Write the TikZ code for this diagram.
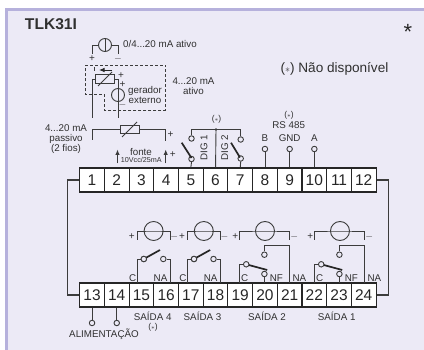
\documentclass[tikz,border=0pt]{standalone}
\usepackage{fontspec}
\usetikzlibrary{arrows.meta}
\setmainfont{Liberation Sans}
\definecolor{panel}{HTML}{ECEAF6}
\definecolor{edge}{HTML}{B6B1DC}
\definecolor{wire}{HTML}{3C3C3C}
\definecolor{ink}{HTML}{303030}
\newcommand{\nd}{($\scriptstyle\ast$)}
\tikzset{
	wireline/.style={draw=wire,line width=0.9pt},
	cell/.style={draw=black!85,fill=white,line width=1.1pt,minimum width=24.7pt,minimum height=24pt,inner sep=0pt,font=\fontsize{15.5}{15.5}\selectfont,text=black!85},
	pin/.style={circle,draw=wire,fill=panel,line width=0.9pt,inner sep=0pt,minimum size=5.5pt},
	lamp/.style={circle,draw=wire,line width=0.9pt,inner sep=0pt,minimum size=19pt},
	meter/.style={circle,draw=wire,line width=0.9pt,inner sep=0pt,minimum size=13pt},
	blade/.style={draw=black!85,line width=1.7pt},
	trim/.style={draw=wire,fill=panel,line width=0.9pt,minimum width=19pt,minimum height=8.5pt,inner sep=0pt},
	lbl/.style={inner sep=0pt,text=ink,align=center,font=\fontsize{9.8}{10}\selectfont},
	tiny/.style={inner sep=0pt,text=ink,font=\fontsize{8.5}{9}\selectfont},
	lilo/.style={inner sep=0pt,text=ink,font=\fontsize{10}{10}\selectfont},
	head/.style={-{Latex[length=5.5pt,width=4.5pt]},draw=wire,line width=0.9pt},
}
\begin{document}
\begin{tikzpicture}[x=1pt,y=-1pt]
	\useasboundingbox (0,0) rectangle (424,350);
	% panel
	\fill[panel] (5,8) rectangle (424,350);
	\fill[edge] (5,8) rectangle (424,11);
	\fill[edge] (5,8) rectangle (8,350);
	\node[inner sep=0pt,text=ink,font=\bfseries\fontsize{15.6}{16}\selectfont] (title) at (51,24) {TLK31I};
	\node[inner sep=0pt,text=black!85,font=\fontsize{22}{22}\selectfont] (mark) at (408,32) {*};
	\node[inner sep=0pt,text=ink,font=\fontsize{13.6}{14}\selectfont] (note) at (334.5,68.5) {\nd\ Não disponível};
	% terminals
	\foreach \n in {1,...,12}
		\node[cell] (t\n) at ({79.7+24.7*(\n-0.5)},180) {\n};
	\foreach \n in {13,...,24}
		\node[cell] (t\n) at ({79.7+24.7*(\n-12.5)},295) {\n};
	\draw[line width=1.1pt,draw=wire] (t1.west) -- ++(-11.5,0) |- (t13.west);
	\draw[line width=1.1pt,draw=wire] (t12.east) -- ++(11.5,0) |- (t24.east);
	% active input
	\node[meter] (m1) at (105,45) {};
	\coordinate (m1l) at (92,54);
	\coordinate (m1r) at (118,54);
	\draw[wireline] (m1.north) -- (m1.south);
	\draw[wireline] (m1.west) -| (m1l);
	\draw[wireline] (m1.east) -| (m1r);
	\node[lilo] (m1p) at (92,59) {+};
	\node[lilo] (m1n) at (118,59) {$-$};
	\node[lbl,anchor=west] (m1t) at (123,44) {0/4...20 mA ativo};
	% external generator
	\draw[wire,densely dashed,line width=0.7pt] (85,65) -- (165.7,65) -- (165.7,110) -- (104.5,110) -- (104.5,94.7) -- (85,94.7) -- cycle;
	\node[trim,minimum width=19pt] (r1) at (105.3,79) {};
	\draw[wireline] (98,86) -- (112,72);
	\coordinate (r1l) at (92,118);
	\coordinate (r1r) at (118,118);
	\draw[wireline] (r1.west) -| (r1l);
	\draw[wireline] (r1.east) -| (r1r);
	\node[meter] (m2) at (118,95) {};
	\draw[wireline] (m2.north) -- (m2.south);
	\coordinate (itick) at (94,67);
	\coordinate (itickb) at (94,71.5);
	\coordinate (ia) at (112,70);
	\coordinate (ib) at (99,70);
	\draw[draw=wire,line width=1pt] (itick) -- (itickb);
	\draw[head,draw=black!85] (ia) -- (ib);
	\node[lilo] at (121,75.5) {+};
	\node[lilo] at (122.5,85) {+};
	\node[lilo] at (122.5,105) {$-$};
	\node[lbl] (gen) at (145,95) {gerador\\externo};
	\node[lbl] (act) at (193.5,86) {4...20 mA\\ativo};
	% passive input
	\node[trim] (r2) at (129.5,129.5) {};
	\draw[wireline] (122,137) -- (137,122);
	\coordinate (r2l) at (92,140);
	\coordinate (r2r) at (165.7,141);
	\draw[wireline] (r2.west) -| (r2l);
	\draw[wireline] (r2.east) -| (r2r);
	\node[lilo] at (170.5,135) {+};
	\node[lbl] (pas) at (66,139) {4...20 mA\\passivo\\(2 fios)};
	% supply
	\coordinate (s1a) at (117.5,163.5);
	\coordinate (s1b) at (117.5,149.5);
	\coordinate (s2a) at (165.7,163.5);
	\coordinate (s2b) at (165.7,149.5);
	\draw[head] (s1a) -- (s1b);
	\draw[head] (s2a) -- (s2b);
	\node[lbl] (fonte) at (141,151.7) {fonte};
	\node[inner sep=0pt,text=ink,font=\fontsize{7.2}{8}\selectfont] (fontev) at (141.3,160) {10Vcc/25mA};
	\node[lilo] at (172.7,155) {+};
	% digital inputs
	\node[pin] (d1a) at (191.5,138.5) {};
	\node[pin] (d1b) at (191.5,159) {};
	\node[pin] (d2a) at (240.7,139.5) {};
	\node[pin] (d2b) at (240.7,158.5) {};
	\coordinate (dj) at (216,129.5);
	\fill[wire] (dj) circle (1.4pt);
	\draw[wireline] (d1a.north) |- (dj) -| (d2a.north);
	\draw[wireline] (dj) -- (t6.north);
	\draw[wireline] (d1b.south) -- (t5.north);
	\draw[wireline] (d2b.south) -- (t7.north);
	\draw[blade] (181.7,142.7) -- (191.5,158);
	\draw[blade] (231,142.7) -- (240,157.5);
	\node[lbl,rotate=90] (dig1) at (204,148) {DIG 1};
	\node[lbl,rotate=90] (dig2) at (224.7,148) {DIG 2};
	\node[tiny] (dn) at (216.5,119) {\nd};
	% serial
	\foreach \n/\lab in {8/B,9/GND,10/A}{
		\node[pin] (s\n) at (t\n |- 0,149) {};
		\draw[wireline] (s\n.south) -- (t\n.north);
		\node[lbl] (sl\n) at (t\n |- 0,138) {\lab};
	}
	\node[lbl] (rs) at (288.7,125.5) {RS 485};
	\node[tiny] (rsn) at (289,115) {\nd};
	% power
	\foreach \n in {13,14}{
		\node[pin] (a\n) at (t\n |- 0,323) {};
		\draw[wireline] (t\n.south) -- (a\n.north);
	}
	\node[lbl] (alim) at (104,334) {ALIMENTAÇÃO};
	\node[tiny] (an) at (153,327) {\nd};
	% outputs 4 and 3
	\foreach \i/\x in {4/137.3,3/187.5}{
		\coordinate (lpl\i) at (\x,240);
		\coordinate (lpr\i) at (\x+32.7,240);
		\node[lamp] (lp\i) at (\x+16.3,231) {};
		\draw[wireline] (lpl\i) |- (lp\i.center) -| (lpr\i);
		\node[lilo] at (\x-5.5,237) {+};
		\node[lilo] at (\x+37,237) {$-$};
		\node[pin] (c\i) at (\x+6.5,259) {};
		\node[pin] (o\i) at (\x+26,259) {};
		\coordinate (fc\i) at (\x,283);
		\coordinate (fo\i) at (\x+32.7,283);
		\draw[wireline] (c\i.west) -| (fc\i);
		\draw[wireline] (o\i.east) -| (fo\i);
		\draw[blade] (c\i.center) -- (\x+22.7,250);
		\node[pin] at (c\i) {};
		\node[lbl] at (\x-4.7,278) {C};
		\node[lbl] at (\x+23.2,278) {NA};
	}
	% outputs 2 and 1
	\foreach \i/\x in {2/239.7,1/314.7}{
		\coordinate (lpl\i) at (\x,240);
		\coordinate (lpr\i) at (\x+50,240);
		\node[lamp] (lp\i) at (\x+25.3,231) {};
		\draw[wireline] (lpl\i) |- (lp\i.center) -| (lpr\i);
		\node[lilo] at (\x-4.5,237) {+};
		\node[lilo] at (\x+54.5,237) {$-$};
		\node[pin] (f\i) at (\x+24.7,274) {};
		\node[pin] (o\i) at (\x+24.7,254.7) {};
		\coordinate (fc\i) at (\x,283);
		\coordinate (fo\i) at (\x+50,283);
		\coordinate (fn\i) at (\x+24.7,283);
		\draw[wireline] (\x+6.5,264.3) -| (fc\i);
		\draw[wireline] (f\i.south) -- (fn\i);
		\draw[wireline] (o\i.north) |- (\x+50,245) -- (fo\i);
		\draw[blade] (\x+6.5,264.3) -- (\x+27.5,270);
		\node[pin] (c\i) at (\x+6.5,264.3) {};
		\node[lbl] at (\x+5,278) {C};
		\node[lbl] at (\x+36.7,278) {NF};
		\node[lbl] at (\x+59.7,278) {NA};
	}
	\foreach \i/\x in {4/152.7,3/202.5,2/267,1/336.7}
		\node[lbl] (sd\i) at (\x,316.7) {SAÍDA \i};
\end{tikzpicture}
\end{document}
